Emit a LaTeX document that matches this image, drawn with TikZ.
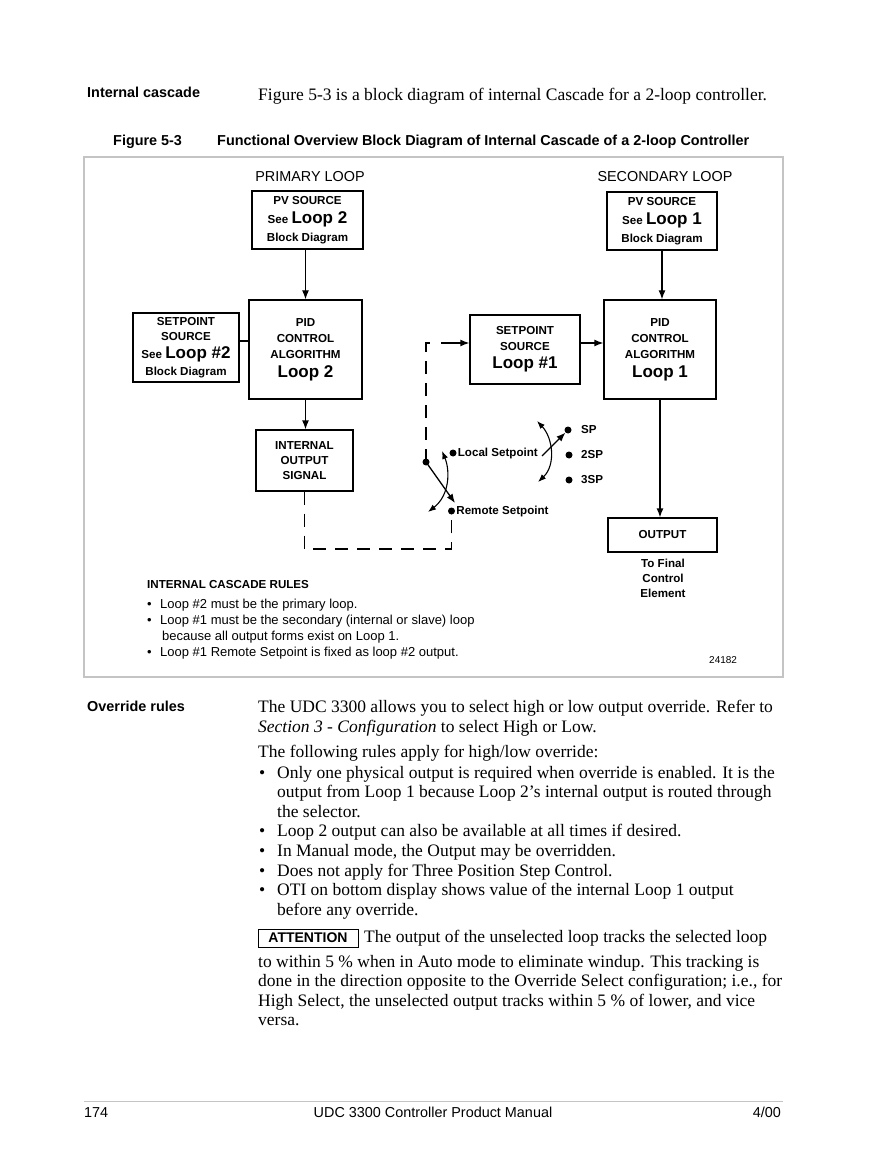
\documentclass[tikz,border=0pt]{standalone}
\usepackage{fontspec}
\setmainfont{Liberation Serif}
\setsansfont{Liberation Sans}
\usepackage{tikz}
\usetikzlibrary{arrows.meta}
\definecolor{framegray}{RGB}{196,196,196}
\newcommand{\bigloop}{\fontsize{17}{19}\selectfont}

\begin{document}
\begin{tikzpicture}[x=1pt, y=-1pt,
    block/.style={draw, line width=1.3pt, align=center, inner sep=0pt, font=\sffamily\bfseries\fontsize{11.6}{15}\selectfont},
    arrow/.style={-{Latex[length=9pt,width=7pt]}, line width=1.3pt},
    link/.style={line width=1.3pt},
    feed/.style={line width=1.3pt, dash pattern=on 13pt off 9pt},
    swing/.style={{Latex[length=8pt,width=6pt]}-{Latex[length=8pt,width=6pt]}, line width=1.1pt},
    dot/.style={circle, fill, inner sep=0pt, minimum size=7pt},
    lbl/.style={anchor=west, inner sep=1pt, font=\sffamily\bfseries\fontsize{11.6}{15}\selectfont},
    looptitle/.style={inner sep=0pt, font=\sffamily\fontsize{14.4}{17}\selectfont},
    body/.style={anchor=base west, inner sep=0pt, font=\fontsize{17.5}{19.7}\selectfont},
    head/.style={anchor=base west, inner sep=0pt, font=\sffamily\bfseries\fontsize{14.4}{17}\selectfont},
    rule/.style={anchor=base west, inner sep=0pt, font=\sffamily\fontsize{13}{15}\selectfont},
    foot/.style={anchor=base, inner sep=0pt, font=\sffamily\fontsize{14.4}{17}\selectfont}
]
\useasboundingbox (0,0) rectangle (892,1155);
\fill[white] (0,0) rectangle (892,1155);

% page heading
\node[head] (hcascade) at (87,98) {Internal cascade};
\node[body] (intro) at (258,101) {Figure 5-3 is a block diagram of internal Cascade for a 2-loop controller.};
\node[head] (fignum) at (113,146) {Figure 5-3};
\node[head] (figtitle) at (217,146) {Functional Overview Block Diagram of Internal Cascade of a 2-loop Controller};

% figure frame
\draw[framegray, line width=1.2pt] (84,157) rectangle (783,677);
\node[looptitle] (primary) at (310,177) {PRIMARY LOOP};
\node[looptitle] (secondary) at (665,177) {SECONDARY LOOP};

% primary loop
\node[block, minimum width=111pt, minimum height=58pt] (pv2) at (307.5,220) {PV SOURCE\\[4pt]See {\bigloop Loop 2}\\[3pt]Block Diagram};
\node[block, minimum width=113pt, minimum height=99pt] (pid2) at (305.5,349.5) {PID\\[1pt]CONTROL\\[1pt]ALGORITHM\\[4pt]{\bigloop Loop 2}};
\node[block, minimum width=106pt, minimum height=69pt] (sp2) at (186,347.5) {SETPOINT\\SOURCE\\[3pt]See {\bigloop Loop \#2}\\[2pt]Block Diagram};
\node[block, minimum width=97pt, minimum height=61pt] (iosig) at (304.5,460.5) {INTERNAL\\OUTPUT\\SIGNAL};

\draw[arrow] (pid2.north |- pv2.south) -- (pid2.north);
\draw[link] (sp2.east |- 0,341) -- (pid2.west |- 0,341);
\draw[arrow] (pid2.south) -- (pid2.south |- iosig.north);

% setpoint switch
\node[dot] (pivot) at (426,462) {};
\node[dot] (lsp) at (453,453) {};
\node[dot] (rsp) at (451.5,511) {};
\node[lbl] (lsplbl) at (lsp.east) {Local Setpoint};
\node[lbl] (rsplbl) at (rsp.east) {Remote Setpoint};

\coordinate (fbturn) at (304.5,549);
\coordinate (fbrise) at (451.5,549);
\coordinate (fbtop) at (426,343);
\coordinate (fbtip) at (441,343);
\draw[feed] (iosig.south) -- (fbturn) -- (fbrise) -- (rsp.center);
\draw[feed] (pivot.center) -- (fbtop) -- ++(5,0);
\draw[arrow] (pivot.center) -- (455,503);
\draw[swing] (442,451) .. controls (450,470) and (450,495) .. (428,512);

% secondary loop
\node[block, minimum width=110pt, minimum height=58pt] (pv1) at (662,221) {PV SOURCE\\[4pt]See {\bigloop Loop 1}\\[3pt]Block Diagram};
\node[block, minimum width=112pt, minimum height=99pt] (pid1) at (660,349.5) {PID\\[1pt]CONTROL\\[1pt]ALGORITHM\\[4pt]{\bigloop Loop 1}};
\node[block, minimum width=110pt, minimum height=69pt] (sp1) at (525,349.5) {SETPOINT\\[1pt]SOURCE\\[3pt]{\bigloop Loop \#1}};
\node[block, minimum width=109pt, minimum height=34pt] (out) at (662.5,535) {OUTPUT};
\node[block, draw=none] (ctrl) at (663,578) {To Final\\Control\\Element};

\draw[arrow] (fbtip) -- (sp1.west |- fbtip);
\draw[arrow] (sp1.east |- 0,343) -- (pid1.west |- 0,343);
\draw[arrow] (pv1.south) -- (pv1.south |- pid1.north);
\draw[arrow] (pid1.south) -- (pid1.south |- out.north);

% setpoint selector
\node[dot] (selsp) at (568,430) {};
\node[dot] (sel2sp) at (569,455) {};
\node[dot] (sel3sp) at (569,480) {};
\node[lbl] (selsplbl) at (580,430) {SP};
\node[lbl] (sel2splbl) at (580,455) {2SP};
\node[lbl] (sel3splbl) at (580,480) {3SP};
\draw[arrow] ([xshift=3pt,yshift=-3pt]lsplbl.east) -- (selsp);
\draw[swing] (537,421) .. controls (553,438) and (556,465) .. (538,482);

% rules
\node[rule, font=\sffamily\bfseries\fontsize{11.6}{15}\selectfont] (ruleshead) at (147,588) {INTERNAL CASCADE RULES};
\node[rule] (rule1) at (147,608) {\makebox[13pt][l]{•}Loop \#2 must be the primary loop.};
\node[rule] (rule2) at (147,624) {\makebox[13pt][l]{•}Loop \#1 must be the secondary (internal or slave) loop};
\node[rule] (rule2b) at (162,640) {because all output forms exist on Loop 1.};
\node[rule] (rule3) at (147,656) {\makebox[13pt][l]{•}Loop \#1 Remote Setpoint is fixed as loop \#2 output.};
\node[rule, font=\sffamily\fontsize{10}{12}\selectfont] (figid) at (709,663) {24182};

% override rules
\node[head] (hoverride) at (87,711) {Override rules};
\node[body] (ov1) at (258,712) {The UDC 3300 allows you to select high or low output override. Refer to};
\node[body] (ov2) at (258,732) {\textit{Section 3 - Configuration} to select High or Low.};
\node[body] (ov3) at (258,757) {The following rules apply for high/low override:};
\node[body] (ov4) at (259,778) {\makebox[18pt][l]{•}Only one physical output is required when override is enabled. It is the};
\node[body] (ov5) at (277,797) {output from Loop 1 because Loop 2’s internal output is routed through};
\node[body] (ov6) at (277,817) {the selector.};
\node[body] (ov7) at (259,836) {\makebox[18pt][l]{•}Loop 2 output can also be available at all times if desired.};
\node[body] (ov8) at (259,856) {\makebox[18pt][l]{•}In Manual mode, the Output may be overridden.};
\node[body] (ov9) at (259,876) {\makebox[18pt][l]{•}Does not apply for Three Position Step Control.};
\node[body] (ov10) at (259,895) {\makebox[18pt][l]{•}OTI on bottom display shows value of the internal Loop 1 output};
\node[body] (ov11) at (277,915) {before any override.};

\node[draw, line width=1pt, inner sep=0pt, minimum width=100pt, minimum height=18pt, font=\sffamily\bfseries\fontsize{14}{16}\selectfont] (attn) at (308,938) {ATTENTION};
\node[body] (at1) at (364,942) {The output of the unselected loop tracks the selected loop};
\node[body] (at2) at (258,967) {to within 5 \% when in Auto mode to eliminate windup. This tracking is};
\node[body] (at3) at (258,986) {done in the direction opposite to the Override Select configuration; i.e., for};
\node[body] (at4) at (258,1006) {High Select, the unselected output tracks within 5 \% of lower, and vice};
\node[body] (at5) at (258,1025) {versa.};

% footer
\draw[framegray, line width=0.8pt] (84,1101) -- (783,1101);
\node[foot, anchor=base west] (pagenum) at (84,1117) {174};
\node[foot] (manual) at (433,1117) {UDC 3300 Controller Product Manual};
\node[foot, anchor=base east] (date) at (781,1117) {4/00};
\end{tikzpicture}
\end{document}
